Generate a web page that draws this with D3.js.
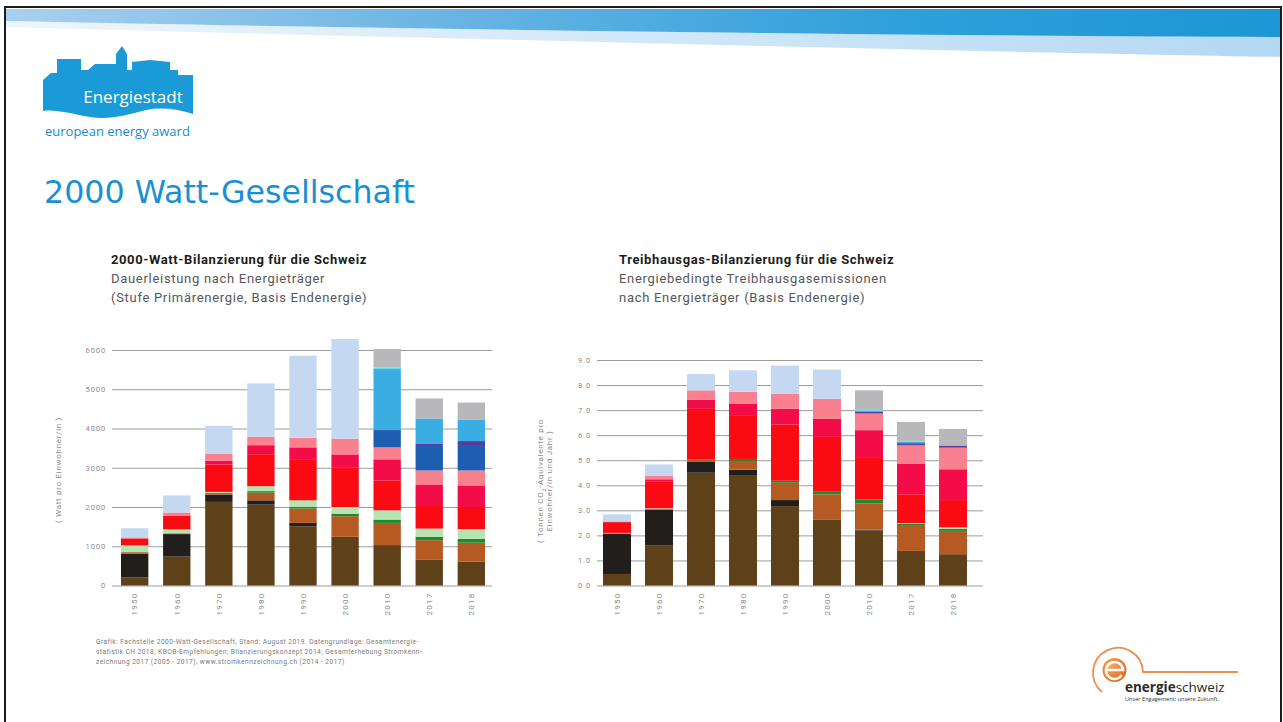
<!DOCTYPE html>
<html lang="de">
<head>
<meta charset="utf-8">
<title>2000 Watt-Gesellschaft</title>
<script src="https://cdn.jsdelivr.net/npm/d3@7"></script>
<style>
  body { margin: 0; background: #fff; }
  svg { display: block; }
</style>
</head>
<body>
<svg id="slide" width="1283" height="722"></svg>
<script>
// ---- Kategorien ----
const years = ["1950", "1960", "1970", "1980", "1990", "2000", "2010", "2017", "2018"];

const carrierKeys = [
  "heizoel", "kohle", "erdgas", "fernwaerme", "holz",
  "benzin", "diesel", "kerosin",
  "strom", "stromKern", "stromFossil", "stromWasser", "stromNeu", "stromUnbekannt"
];
const carrierColors = [
  "#5e4019", "#221e1c", "#b65a24", "#1f8a2c", "#b6e4b0",
  "#fa0a12", "#f40c48", "#f9818f",
  "#c4d9f1", "#1d5db2", "#5a3c9c", "#3aaee2", "#66dcef", "#b8b7ba"
];

// ---- Dauerleistung, Watt pro Einwohner/in ----
const wattHeizoel        = [210, 735, 2130, 2060, 1510, 1240, 1030, 665, 605];
const wattKohle          = [600, 575, 185, 110, 85, 0, 0, 0, 0];
const wattErdgas         = [40, 20, 45, 195, 365, 525, 565, 490, 485];
const wattFernwaerme     = [0, 0, 0, 40, 40, 65, 85, 85, 100];
const wattHolz           = [170, 100, 25, 125, 170, 170, 235, 210, 245];
const wattBenzin         = [180, 350, 695, 815, 1050, 1000, 760, 575, 565];
const wattDiesel         = [0, 0, 100, 230, 300, 340, 540, 550, 550];
const wattKerosin        = [25, 80, 170, 215, 245, 400, 305, 355, 380];
const wattStrom          = [235, 435, 720, 1360, 2090, 2540, 0, 0, 0];
const wattStromKern      = [0, 0, 0, 0, 0, 0, 440, 625, 625];
const wattStromFossil    = [0, 0, 0, 0, 0, 0, 0, 65, 125];
const wattStromWasser    = [0, 0, 0, 0, 0, 0, 1555, 635, 550];
const wattStromNeu       = [0, 0, 0, 0, 0, 0, 40, 0, 0];
const wattStromUnbekannt = [0, 0, 0, 0, 0, 0, 470, 510, 430];

// ---- Treibhausgasemissionen, t CO2-eq pro Einwohner/in und Jahr ----
const co2Heizoel        = [0.46, 1.61, 4.50, 4.38, 3.17, 2.64, 2.20, 1.38, 1.25];
const co2Kohle          = [1.62, 1.43, 0.45, 0.24, 0.24, 0, 0.03, 0, 0];
const co2Erdgas         = [0, 0, 0.08, 0.35, 0.69, 1.00, 1.05, 1.00, 0.93];
const co2Fernwaerme     = [0, 0, 0, 0.08, 0.08, 0.10, 0.16, 0.08, 0.09];
const co2Holz           = [0.02, 0.04, 0, 0, 0, 0, 0, 0.03, 0.05];
const co2Benzin         = [0.43, 1.06, 2.02, 1.75, 2.24, 2.19, 1.65, 1.15, 1.09];
const co2Diesel         = [0, 0.10, 0.37, 0.46, 0.63, 0.72, 1.11, 1.21, 1.23];
const co2Kerosin        = [0.03, 0.13, 0.37, 0.47, 0.61, 0.80, 0.66, 0.74, 0.85];
const co2Strom          = [0.28, 0.46, 0.65, 0.86, 1.12, 1.17, 0, 0, 0];
const co2StromKern      = [0, 0, 0, 0, 0, 0, 0.02, 0.02, 0.02];
const co2StromFossil    = [0, 0, 0, 0, 0, 0, 0.06, 0.07, 0.07];
const co2StromWasser    = [0, 0, 0, 0, 0, 0, 0.03, 0.06, 0.02];
const co2StromNeu       = [0, 0, 0, 0, 0, 0, 0.04, 0.03, 0];
const co2StromUnbekannt = [0, 0, 0, 0, 0, 0, 0.78, 0.76, 0.65];

// ---- Achsen ----
const wattTicks = [0, 1000, 2000, 3000, 4000, 5000, 6000];
const co2Ticks = [0, 1, 2, 3, 4, 5, 6, 7, 8, 9];

const wattSeries = [wattHeizoel, wattKohle, wattErdgas, wattFernwaerme, wattHolz,
  wattBenzin, wattDiesel, wattKerosin, wattStrom, wattStromKern, wattStromFossil,
  wattStromWasser, wattStromNeu, wattStromUnbekannt];
const co2Series = [co2Heizoel, co2Kohle, co2Erdgas, co2Fernwaerme, co2Holz,
  co2Benzin, co2Diesel, co2Kerosin, co2Strom, co2StromKern, co2StromFossil,
  co2StromWasser, co2StromNeu, co2StromUnbekannt];

function rowsFrom(series) {
  return years.map((year, i) => {
    const row = { year };
    carrierKeys.forEach((k, j) => { row[k] = series[j][i]; });
    return row;
  });
}

const svg = d3.select("#slide");
const defs = svg.append("defs");
const color = d3.scaleOrdinal().domain(carrierKeys).range(carrierColors);

// ---- Kopfband ----
const gBand = defs.append("linearGradient").attr("id", "bandDark")
  .attr("x1", "0").attr("x2", "1").attr("y1", "0").attr("y2", "0");
gBand.append("stop").attr("offset", "0").attr("stop-color", "#a9d0ee");
gBand.append("stop").attr("offset", "0.35").attr("stop-color", "#69b4e4");
gBand.append("stop").attr("offset", "0.7").attr("stop-color", "#2fa0da");
gBand.append("stop").attr("offset", "1").attr("stop-color", "#1c96d4");

const gLight = defs.append("linearGradient").attr("id", "bandLight")
  .attr("x1", "0").attr("x2", "1").attr("y1", "0").attr("y2", "0");
gLight.append("stop").attr("offset", "0").attr("stop-color", "#eef6fc");
gLight.append("stop").attr("offset", "0.5").attr("stop-color", "#d2e8f8");
gLight.append("stop").attr("offset", "1").attr("stop-color", "#b4d8f3");

svg.append("path")
  .attr("d", "M5,21 C400,29 900,36 1281,37 L1281,57 C1000,52 500,40 5,27 Z")
  .attr("fill", "url(#bandLight)");
svg.append("path")
  .attr("d", "M5,9 L1281,9 L1281,37 C900,36 400,29 5,21 Z")
  .attr("fill", "url(#bandDark)");

// Rahmen
svg.append("rect")
  .attr("x", 5).attr("y", 7).attr("width", 1276).attr("height", 720)
  .attr("fill", "none").attr("stroke", "#1b1b1b").attr("stroke-width", 2);

// ---- Logo Energiestadt ----
const logo = svg.append("g");
logo.append("path")
  .attr("d", "M43,111 L43,80 L51,73 L57,73 L57,59 L81,59 L81,70 L88,70 L95,64 L116,64 L116,54 L122,46 L127,54 L127,70 L132,70 L132,62 L150,60 L170,62 L170,70 L178,70 L178,75 L193,75 L193,114 C178,109 162,107 146,110 C126,115 110,120 90,117 C72,114 56,109 43,111 Z")
  .attr("fill", "#1a9ad6");
logo.append("text")
  .attr("x", 133).attr("y", 103)
  .attr("text-anchor", "middle")
  .attr("font-family", "'Open Sans', 'Noto Sans', sans-serif")
  .attr("font-size", 17)
  .attr("fill", "#fff")
  .text("Energiestadt");
logo.append("text")
  .attr("x", 45).attr("y", 136)
  .attr("font-family", "'Open Sans', 'Noto Sans', sans-serif")
  .attr("font-size", 13)
  .attr("fill", "#1a8ccc")
  .text("european energy award");

// ---- Folientitel ----
svg.append("text")
  .attr("x", 44).attr("y", 203)
  .attr("font-family", "'DejaVu Sans', Verdana, sans-serif")
  .attr("font-size", 31.7)
  .attr("fill", "#1a8fd4")
  .text("2000 Watt-Gesellschaft");

// ---- Diagramm ----
const chartFont = "Roboto, 'Noto Sans', sans-serif";

function drawChart(cfg) {
  const g = svg.append("g");
  const x = d3.scaleBand().domain(years).range(cfg.barRange).paddingInner(cfg.padInner).paddingOuter(0);
  const y = d3.scaleLinear().domain(cfg.domain).range([cfg.y0, cfg.yTop]);

  // Titelblock
  const head = g.append("g").attr("font-family", chartFont);
  head.append("text").attr("x", cfg.titleX).attr("y", 264)
    .attr("font-weight", 700).attr("font-size", 13).attr("letter-spacing", 0.6)
    .attr("fill", "#1c1c1c")
    .text(cfg.title);
  cfg.subtitle.forEach((s, i) => {
    head.append("text").attr("x", cfg.titleX).attr("y", 283 + i * 19)
      .attr("font-size", 13).attr("letter-spacing", 0.7)
      .attr("fill", "#575757").text(s);
  });

  // Gitterlinien + Beschriftung der y-Achse
  const yAxis = d3.axisLeft(y).tickValues(cfg.ticks).tickFormat(cfg.format)
    .tickSize(-(cfg.gridRange[1] - cfg.gridRange[0])).tickPadding(6);
  const ya = g.append("g").attr("transform", `translate(${cfg.gridRange[0]},0)`).call(yAxis);
  ya.select(".domain").remove();
  ya.selectAll(".tick line").attr("stroke", "#9c9c9c").attr("stroke-width", 1);
  ya.selectAll(".tick text")
    .attr("font-family", chartFont).attr("font-size", 7.5)
    .attr("letter-spacing", 0.9).attr("fill", "#8c8c8c");

  // Balken
  const stacked = d3.stack().keys(carrierKeys)(rowsFrom(cfg.series));
  g.append("g").selectAll("g").data(stacked).join("g")
    .attr("fill", d => color(d.key))
    .selectAll("rect").data(d => d.filter(v => v[1] - v[0] > 0)).join("rect")
    .attr("x", d => x(d.data.year))
    .attr("width", x.bandwidth())
    .attr("y", d => y(d[1]))
    .attr("height", d => y(d[0]) - y(d[1]));

  // Jahreszahlen
  g.append("g").selectAll("text").data(years).join("text")
    .attr("transform", d => `translate(${x(d) + x.bandwidth() / 2},604) rotate(-90)`)
    .attr("text-anchor", "middle").attr("dy", "0.35em")
    .attr("font-family", chartFont).attr("font-size", 8)
    .attr("letter-spacing", 1.2).attr("fill", "#8c8c8c")
    .text(d => d);

  // Achsentitel
  const at = g.append("text")
    .attr("font-family", chartFont).attr("font-size", 8)
    .attr("letter-spacing", 0.7).attr("fill", "#8c8c8c")
    .attr("text-anchor", "middle");
  cfg.axisTitle(at);
  return g;
}

drawChart({
  title: "2000-Watt-Bilanzierung für die Schweiz",
  subtitle: ["Dauerleistung nach Energieträger", "(Stufe Primärenergie, Basis Endenergie)"],
  titleX: 111,
  series: wattSeries,
  domain: [0, 6000],
  ticks: wattTicks,
  format: d3.format("d"),
  y0: 585.5, yTop: 350,
  barRange: [121, 485], padInner: 0.35,
  gridRange: [112, 492],
  axisTitle: t => t.attr("transform", "translate(58,470) rotate(-90)")
    .attr("dy", "0.35em").text("( Watt pro Einwohner/in )")
});

drawChart({
  title: "Treibhausgas-Bilanzierung für die Schweiz",
  subtitle: ["Energiebedingte Treibhausgasemissionen", "nach Energieträger (Basis Endenergie)"],
  titleX: 619,
  series: co2Series,
  domain: [0, 9],
  ticks: co2Ticks,
  format: d3.format(".1f"),
  y0: 585.5, yTop: 360,
  barRange: [603, 967], padInner: 0.333,
  gridRange: [597, 983],
  axisTitle: t => {
    t.attr("transform", "translate(540,481) rotate(-90)");
    t.append("tspan").attr("x", 0).attr("dy", "0.35em").text("( Tonnen CO");
    t.append("tspan").attr("font-size", 5.5).attr("baseline-shift", "sub").text("2");
    t.append("tspan").text("-Äquivalente pro");
    t.append("tspan").attr("x", 0).attr("dy", "1.1em").text("Einwohner/in und Jahr )");
  }
});

// ---- Quellenangabe ----
const source = [
  "Grafik: Fachstelle 2000-Watt-Gesellschaft, Stand: August 2019. Datengrundlage: Gesamtenergie-",
  "statistik CH 2018; KBOB-Empfehlungen; Bilanzierungskonzept 2014; Gesamterhebung Stromkenn-",
  "zeichnung 2017 (2005 - 2017), www.stromkennzeichnung.ch (2014 - 2017)"
];
svg.append("g").selectAll("text").data(source).join("text")
  .attr("x", 96).attr("y", (d, i) => 644 + i * 10)
  .attr("font-family", chartFont).attr("font-size", 6.6)
  .attr("letter-spacing", 0.45)
  .attr("fill", "#7a7a7a").text(d => d);

// ---- Logo EnergieSchweiz ----
const es = svg.append("g");
const esGrad = defs.append("radialGradient").attr("id", "esDisc").attr("cx", "0.35").attr("cy", "0.3").attr("r", "0.8");
esGrad.append("stop").attr("offset", "0").attr("stop-color", "#f7a75c");
esGrad.append("stop").attr("offset", "1").attr("stop-color", "#e0661a");
es.append("path")
  .attr("d", "M1102,692 A25,25 0 1 1 1143,672 L1238,672")
  .attr("fill", "none").attr("stroke", "#ec9050").attr("stroke-width", 1.8);
es.append("circle").attr("cx", 1114.5).attr("cy", 670).attr("r", 12).attr("fill", "url(#esDisc)");
es.append("path")
  .attr("d", "M1106,670 L1123,670 A8.5,8.5 0 1 0 1121,676")
  .attr("fill", "none").attr("stroke", "#fff").attr("stroke-width", 2.6).attr("stroke-linecap", "round");
const esText = es.append("text").attr("x", 1125).attr("y", 692)
  .attr("font-family", "'Open Sans', 'Noto Sans', sans-serif").attr("font-size", 13.5).attr("fill", "#2a2a2a");
esText.append("tspan").attr("font-weight", 700).text("energie");
esText.append("tspan").text("schweiz");
es.append("text").attr("x", 1125).attr("y", 701)
  .attr("font-family", "'Open Sans', 'Noto Sans', sans-serif").attr("font-size", 5.6).attr("fill", "#333")
  .text("Unser Engagement: unsere Zukunft.");
</script>
</body>
</html>
